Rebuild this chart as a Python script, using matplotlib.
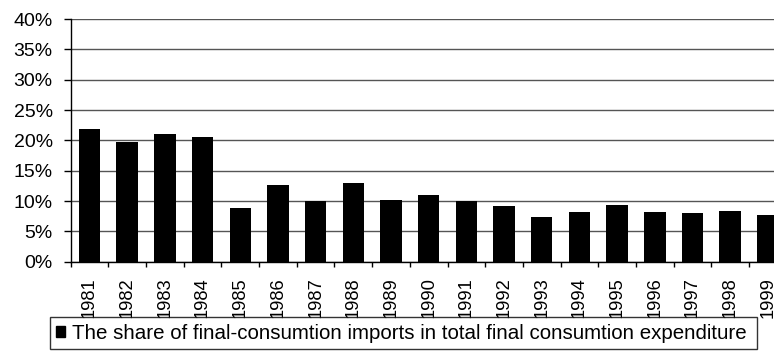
import matplotlib.pyplot as plt
from matplotlib.ticker import FuncFormatter, MultipleLocator
from matplotlib.patches import Patch

plt.rcParams['font.family'] = ['Liberation Sans', 'DejaVu Sans']

# share of final-consumption imports, percent of total final consumption expenditure
years = [str(y) for y in range(1981, 2000)]
shares = [21.8, 19.8, 21.1, 20.5, 8.8, 12.7, 10.0, 13.0, 10.1, 11.0,
          10.0, 9.1, 7.3, 8.2, 9.3, 8.2, 8.1, 8.4, 7.7]
legend_label = 'The share of final-consumtion imports in total final consumtion expenditure'

W, H = 774, 353
fig = plt.figure(figsize=(W / 100, H / 100), dpi=100)
# plot area runs past the right edge, so the last bar gets clipped
ax = fig.add_axes([70.7 / W, (H - 261.7) / H, 716 / W, 242.7 / H])

x = range(len(years))
ax.bar(x, shares, width=0.57, color='black', zorder=3)

ax.set_xlim(-0.5, len(years) - 0.5)
ax.set_ylim(0, 40)
ax.yaxis.set_major_locator(MultipleLocator(5))
ax.yaxis.set_major_formatter(FuncFormatter(lambda v, p: f'{v:.0f}%'))
ax.grid(axis='y', color='#555555', linewidth=1.0, zorder=0)

# category labels in the middle, tick marks between categories
ax.set_xticks(list(x))
ax.set_xticklabels(years, rotation=90, fontsize=13.2)
ax.set_xticks([i - 0.5 for i in range(len(years) + 1)], minor=True)
ax.tick_params(axis='x', which='major', length=0, pad=11)
ax.tick_params(axis='x', which='minor', length=3.6, width=1, color='black', direction='out')
ax.tick_params(axis='y', length=5.3, width=1, color='black', direction='out',
               pad=7.6, labelsize=14)

for side in ['top', 'right']:
    ax.spines[side].set_visible(False)
for side in ['left', 'bottom']:
    ax.spines[side].set_color('black')
    ax.spines[side].set_linewidth(1)

handle = Patch(facecolor='black', edgecolor='black')
leg = fig.legend([handle], [legend_label], loc='upper left',
                 bbox_to_anchor=(50 / W, 1 - 321 / H, (757 - 50) / W, 0.01),
                 mode='expand', fontsize=14.8, frameon=True, fancybox=False,
                 handlelength=0.45, handleheight=0.45, handletextpad=0.3,
                 borderpad=0.3, borderaxespad=0)
leg.get_frame().set_edgecolor('black')
leg.get_frame().set_linewidth(1)

fig.savefig('out.png', dpi=100)
